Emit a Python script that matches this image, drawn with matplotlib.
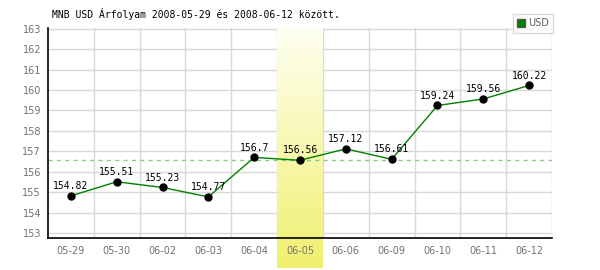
import numpy as np
import matplotlib
matplotlib.use("Agg")
from matplotlib import pyplot as plt
from matplotlib.patches import Patch

dates = ["05-29", "05-30", "06-02", "06-03", "06-04", "06-05",
         "06-06", "06-09", "06-10", "06-11", "06-12"]
usd = [154.82, 155.51, 155.23, 154.77, 156.7, 156.56,
       157.12, 156.61, 159.24, 159.56, 160.22]
highlight_idx = 5
ref_value = 156.56
y_ticks = list(range(153, 164))
title = "MNB USD Árfolyam 2008-05-29 és 2008-06-12 között."

fig = plt.figure(figsize=(6, 2.7), dpi=100)
ax = fig.add_axes([48 / 600, 32 / 270, 504 / 600, 210 / 270])

x = np.arange(len(dates))
ylo, yhi = 152.76, 163.03

# grid drawn by hand so the highlight can sit over it but under the tick labels
for yt in y_ticks:
    ax.axhline(yt, color="#d8d8d8", lw=1, zorder=0.5)
for xb in x + 0.5:
    ax.axvline(xb, color="#d8d8d8", lw=1, zorder=0.5)

# highlighted day: vertical gradient, runs past the axis down to the image edge
grad = np.linspace(0, 1, 256)[:, None]
top = np.array([255, 255, 242]) / 255
bot = np.array([240, 240, 110]) / 255
img = top + (bot - top) * grad[..., None]
ax.imshow(img, extent=(highlight_idx - 0.5, highlight_idx + 0.5, 151.3, yhi),
          aspect="auto", origin="upper", clip_on=False, zorder=1)
ax.set_xlim(-0.5, len(dates) - 0.5)
ax.set_ylim(ylo, yhi)

ax.axhline(ref_value, color="#88cc88", lw=1, ls=(0, (3, 3)), zorder=1.5)
ax.plot(x, usd, color="#008000", lw=1, zorder=2)
ax.plot(x, usd, "o", color="black", ms=5, zorder=3)
for xi, v in zip(x, usd):
    ax.annotate(f"{v:g}", (xi, v), xytext=(0, 3.5), textcoords="offset points",
                ha="center", va="bottom", fontsize=7, family="DejaVu Sans Mono",
                zorder=4)

ax.set_xticks(x)
ax.set_xticklabels(dates)
ax.set_yticks(y_ticks)
ax.tick_params(length=0, labelsize=7, colors="#707070")
ax.tick_params(axis="x", pad=6)
ax.tick_params(axis="y", pad=5)
for s in ["top", "right"]:
    ax.spines[s].set_visible(False)
for s in ["left", "bottom"]:
    ax.spines[s].set_color("black")
    ax.spines[s].set_linewidth(1.2)
    ax.spines[s].set_zorder(2.5)

fig.text(52 / 600, 1 - 14 / 270, title, ha="left", va="center",
         fontsize=7, family="DejaVu Sans Mono")

leg = fig.legend(handles=[Patch(facecolor="#008000", edgecolor="#555555", label="USD")],
                 loc="upper right", bbox_to_anchor=(553 / 600, 1 - 14 / 270),
                 fontsize=7, frameon=True, fancybox=False, handlelength=0.8,
                 handleheight=0.8, handletextpad=0.3, borderpad=0.45,
                 borderaxespad=0)
leg.get_frame().set_edgecolor("#d0d0d0")
leg.get_frame().set_linewidth(1)
for t in leg.get_texts():
    t.set_color("#606060")

fig.savefig("out.png", dpi=100)
